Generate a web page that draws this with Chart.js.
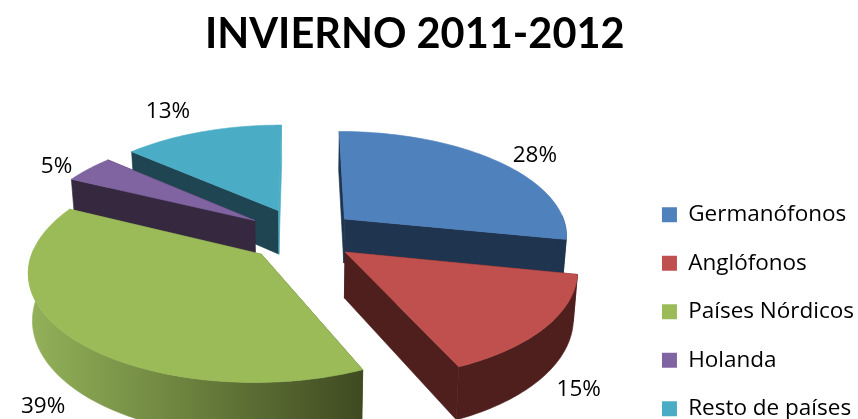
<!DOCTYPE html>
<html>
<head>
<meta charset="utf-8">
<style>
  html, body { margin: 0; padding: 0; background: #fff; }
  #wrap { width: 858px; height: 419px; }
</style>
<script src="https://cdn.jsdelivr.net/npm/chart.js@4/dist/chart.umd.min.js"></script>
</head>
<body>
<div id="wrap"><canvas id="chart"></canvas></div>
<script>
const categories = ['Germanófonos', 'Anglófonos', 'Países Nórdicos', 'Holanda', 'Resto de países'];
// shares, the labels show them rounded
const values = [28.2, 15.15, 38.85, 4.3, 13.5];
const percentLabels = ['28%', '15%', '39%', '5%', '13%'];
const topColors = ['#4f81bd', '#c0504d', '#9bbb59', '#8064a2', '#4bacc6'];
const wallColors = ['#1f344f', '#4f1f1e', null, '#36283f', '#1f4552'];
const explode = [56, 54, 55, 58, 59];
// far to near, so nearer slices paint over the ones behind
const drawOrder = [4, 3, 0, 2, 1];
// label position relative to the slice's outer edge, in screen px
const labelShift = [[38, -5], [33, 62], [-30, 68], [-32, -2], [-34, -20]];

// perspective of the pie plane, fitted to the reference
const VIEW = { cx: 302, cy: 235.5, horizon: -500, rx: 224, ry: 218, height: 45, k: 0.00065, taper: 0.985 };

function project(u, v, low) {
  const s = 1 / (1 - VIEW.k * v);
  const y = VIEW.horizon + (VIEW.cy - VIEW.horizon) * s;
  const x = VIEW.cx + u * s;
  if (!low) return { x, y };
  return { x: VIEW.cx + (x - VIEW.cx) * VIEW.taper, y: y + VIEW.height * s };
}

function fillPoly(ctx, pts, fill) {
  ctx.beginPath();
  pts.forEach((p, i) => (i ? ctx.lineTo(p.x, p.y) : ctx.moveTo(p.x, p.y)));
  ctx.closePath();
  ctx.fillStyle = fill;
  ctx.strokeStyle = fill;
  ctx.lineWidth = 0.6;
  ctx.fill();
  ctx.stroke();
}

const pie3d = {
  id: 'pie3d',
  beforeDatasetsDraw(chart) {
    const ctx = chart.ctx;
    const arcs = chart.getDatasetMeta(0).data;
    ctx.save();

    drawOrder.forEach((i) => {
      const arc = arcs[i];
      const mid = (arc.startAngle + arc.endAngle) / 2;
      const ou = Math.cos(mid) * explode[i];
      const ov = Math.sin(mid) * explode[i];
      const rim = [];
      for (let n = 0; n <= 60; n++) {
        const a = arc.startAngle + (arc.endAngle - arc.startAngle) * n / 60;
        rim.push({ u: ou + Math.cos(a) * VIEW.rx, v: ov + Math.sin(a) * VIEW.ry, front: Math.sin(a) > -0.05 });
      }
      const topRim = rim.map((r) => project(r.u, r.v, false));
      const lowRim = rim.map((r) => project(r.u, r.v, true));
      const apex = project(ou, ov, false);
      const apexLow = project(ou, ov, true);

      let wall = wallColors[i];
      if (!wall) {
        wall = ctx.createLinearGradient(28, 0, 362, 0);
        wall.addColorStop(0, '#93b25a');
        wall.addColorStop(0.35, '#768f45');
        wall.addColorStop(1, '#3f4a21');
      }
      fillPoly(ctx, [apex, topRim[0], lowRim[0], apexLow], wall);
      // the thin edge of the last slice catches the light
      fillPoly(ctx, [apex, topRim[60], lowRim[60], apexLow], i === 4 ? topColors[i] : wall);
      // only the near part of the rim shows a wall
      const frontTop = topRim.filter((p, n) => rim[n].front);
      const frontLow = lowRim.filter((p, n) => rim[n].front);
      if (frontTop.length > 1) fillPoly(ctx, frontTop.concat(frontLow.reverse()), wall);
      fillPoly(ctx, [apex].concat(topRim), topColors[i]);
    });

    ctx.fillStyle = '#000';
    ctx.font = '22.5px "Open Sans"';
    ctx.textAlign = 'center';
    ctx.textBaseline = 'middle';
    arcs.forEach((arc, i) => {
      const mid = (arc.startAngle + arc.endAngle) / 2;
      const p = project(Math.cos(mid) * (explode[i] + VIEW.rx), Math.sin(mid) * (explode[i] + VIEW.ry), false);
      ctx.fillText(percentLabels[i], p.x + labelShift[i][0], p.y + labelShift[i][1]);
    });

    ctx.restore();
    return false;
  },
};

new Chart(document.getElementById('chart'), {
  type: 'pie',
  data: {
    labels: categories,
    datasets: [{ data: values, backgroundColor: topColors, borderWidth: 0 }],
  },
  plugins: [pie3d],
  options: {
    responsive: true,
    maintainAspectRatio: false,
    animation: false,
    layout: { padding: { left: 205, right: -6, top: 10, bottom: -27 } },
    plugins: {
      tooltip: { enabled: false },
      title: {
        display: true,
        text: 'INVIERNO 2011-2012',
        align: 'start',
        color: '#000',
        font: { family: 'Lato', size: 41.5, weight: 'bold' },
        padding: { top: 0, bottom: 10 },
      },
      legend: {
        position: 'right',
        align: 'end',
        labels: {
          color: '#000',
          boxWidth: 15,
          boxHeight: 15,
          padding: 26,
          font: { family: '"Open Sans"', size: 22.5 },
        },
      },
    },
  },
});
</script>
</body>
</html>
